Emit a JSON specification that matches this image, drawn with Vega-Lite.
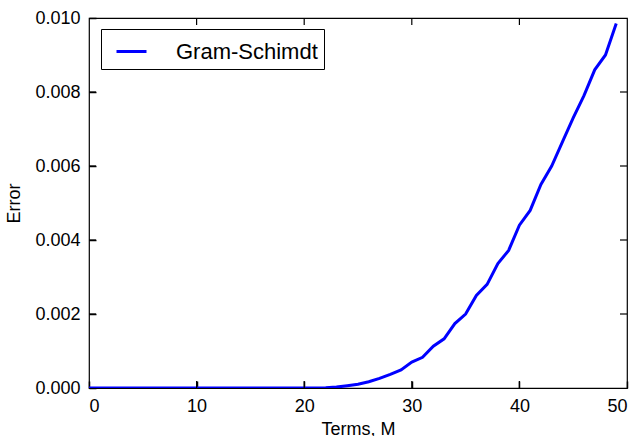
{
  "$schema": "https://vega.github.io/schema/vega-lite/v6.json",
  "autosize": "none",
  "width": 538,
  "height": 370,
  "padding": {"left": 89, "top": 18, "right": 12, "bottom": 48},
  "background": "white",
  "config": {
    "font": "Liberation Sans",
    "view": {"stroke": "black", "strokeWidth": 1.2, "fill": null},
    "axis": {
      "grid": false,
      "domain": false,
      "zindex": 1,
      "labelFont": "Liberation Sans",
      "labelFontSize": 18,
      "labelColor": "black",
      "titleFont": "Liberation Sans",
      "titleFontSize": 18,
      "titleFontWeight": "normal",
      "titleColor": "black"
    }
  },
  "datasets": {
    "xticks": [{"M": 10}, {"M": 20}, {"M": 30}, {"M": 40}],
    "yticks": [{"err": 0.002}, {"err": 0.004}, {"err": 0.006}, {"err": 0.008}]
  },
  "data": {
    "values": [
      {"M": 0, "err": 0, "series": "Gram-Schimdt"},
      {"M": 1, "err": 0, "series": "Gram-Schimdt"},
      {"M": 2, "err": 0, "series": "Gram-Schimdt"},
      {"M": 3, "err": 0, "series": "Gram-Schimdt"},
      {"M": 4, "err": 0, "series": "Gram-Schimdt"},
      {"M": 5, "err": 0, "series": "Gram-Schimdt"},
      {"M": 6, "err": 0, "series": "Gram-Schimdt"},
      {"M": 7, "err": 0, "series": "Gram-Schimdt"},
      {"M": 8, "err": 0, "series": "Gram-Schimdt"},
      {"M": 9, "err": 0, "series": "Gram-Schimdt"},
      {"M": 10, "err": 0, "series": "Gram-Schimdt"},
      {"M": 11, "err": 0, "series": "Gram-Schimdt"},
      {"M": 12, "err": 0, "series": "Gram-Schimdt"},
      {"M": 13, "err": 0, "series": "Gram-Schimdt"},
      {"M": 14, "err": 0, "series": "Gram-Schimdt"},
      {"M": 15, "err": 0, "series": "Gram-Schimdt"},
      {"M": 16, "err": 0, "series": "Gram-Schimdt"},
      {"M": 17, "err": 0, "series": "Gram-Schimdt"},
      {"M": 18, "err": 0, "series": "Gram-Schimdt"},
      {"M": 19, "err": 0, "series": "Gram-Schimdt"},
      {"M": 20, "err": 0.000001, "series": "Gram-Schimdt"},
      {"M": 21, "err": 0.000003, "series": "Gram-Schimdt"},
      {"M": 22, "err": 0.00001, "series": "Gram-Schimdt"},
      {"M": 23, "err": 0.000025, "series": "Gram-Schimdt"},
      {"M": 24, "err": 0.00006, "series": "Gram-Schimdt"},
      {"M": 25, "err": 0.0001, "series": "Gram-Schimdt"},
      {"M": 26, "err": 0.00017, "series": "Gram-Schimdt"},
      {"M": 27, "err": 0.00026, "series": "Gram-Schimdt"},
      {"M": 28, "err": 0.00037, "series": "Gram-Schimdt"},
      {"M": 29, "err": 0.00049, "series": "Gram-Schimdt"},
      {"M": 30, "err": 0.0007, "series": "Gram-Schimdt"},
      {"M": 31, "err": 0.00083, "series": "Gram-Schimdt"},
      {"M": 32, "err": 0.00113, "series": "Gram-Schimdt"},
      {"M": 33, "err": 0.00133, "series": "Gram-Schimdt"},
      {"M": 34, "err": 0.00174, "series": "Gram-Schimdt"},
      {"M": 35, "err": 0.002, "series": "Gram-Schimdt"},
      {"M": 36, "err": 0.0025, "series": "Gram-Schimdt"},
      {"M": 37, "err": 0.0028, "series": "Gram-Schimdt"},
      {"M": 38, "err": 0.00336, "series": "Gram-Schimdt"},
      {"M": 39, "err": 0.00372, "series": "Gram-Schimdt"},
      {"M": 40, "err": 0.0044, "series": "Gram-Schimdt"},
      {"M": 41, "err": 0.0048, "series": "Gram-Schimdt"},
      {"M": 42, "err": 0.0055, "series": "Gram-Schimdt"},
      {"M": 43, "err": 0.006, "series": "Gram-Schimdt"},
      {"M": 44, "err": 0.00665, "series": "Gram-Schimdt"},
      {"M": 45, "err": 0.0073, "series": "Gram-Schimdt"},
      {"M": 46, "err": 0.0079, "series": "Gram-Schimdt"},
      {"M": 47, "err": 0.0086, "series": "Gram-Schimdt"},
      {"M": 48, "err": 0.009, "series": "Gram-Schimdt"},
      {"M": 49, "err": 0.00985, "series": "Gram-Schimdt"}
    ]
  },
  "layer": [
    {
      "mark": {"type": "line", "strokeWidth": 3, "clip": true},
      "encoding": {
        "x": {
          "field": "M", "type": "quantitative",
          "scale": {"domain": [0, 50], "nice": false},
          "axis": {"orient": "bottom", "values": [0, 10, 20, 30, 40, 50], "title": "Terms, M", "ticks": true, "tickSize": 7, "tickColor": "#000000", "tickWidth": 1.5, "offset": -7, "labelPadding": 9, "titlePadding": 5}
        },
        "y": {
          "field": "err", "type": "quantitative",
          "scale": {"domain": [0, 0.01], "nice": false},
          "axis": {"orient": "left", "values": [0, 0.002, 0.004, 0.006, 0.008, 0.01], "format": ".3f", "title": "Error", "ticks": true, "tickSize": 7, "tickColor": "#000000", "tickWidth": 1.5, "offset": -7, "labelPadding": 9, "titlePadding": 11}
        },
        "color": {
          "field": "series", "type": "nominal",
          "scale": {"domain": ["Gram-Schimdt"], "range": ["#0000ff"]},
          "legend": {
            "title": null,
            "orient": "none",
            "legendX": 12,
            "legendY": 11,
            "strokeColor": "black",
            "fillColor": "white",
            "padding": 6,
            "symbolType": "stroke",
            "symbolSize": 900,
            "symbolStrokeWidth": 3,
            "symbolOffset": 8,
            "labelOffset": 28,
            "labelFont": "Liberation Sans",
            "labelFontSize": 22,
            "labelColor": "black"
          }
        }
      }
    },
    {
      "data": {"name": "xticks"},
      "mark": {"type": "rule", "color": "black", "strokeWidth": 1.2},
      "encoding": {
        "x": {"field": "M", "type": "quantitative", "title": "Terms, M"},
        "y": {"datum": 0},
        "y2": {"datum": 0.00019}
      }
    },
    {
      "data": {"name": "xticks"},
      "mark": {"type": "rule", "color": "black", "strokeWidth": 1.2},
      "encoding": {
        "x": {"field": "M", "type": "quantitative", "title": "Terms, M"},
        "y": {"datum": 0.01},
        "y2": {"datum": 0.00981}
      }
    },
    {
      "data": {"name": "yticks"},
      "mark": {"type": "rule", "color": "black", "strokeWidth": 1.2},
      "encoding": {
        "y": {"field": "err", "type": "quantitative", "title": "Error"},
        "x": {"datum": 0},
        "x2": {"datum": 0.65}
      }
    },
    {
      "data": {"name": "yticks"},
      "mark": {"type": "rule", "color": "black", "strokeWidth": 1.2},
      "encoding": {
        "y": {"field": "err", "type": "quantitative", "title": "Error"},
        "x": {"datum": 50},
        "x2": {"datum": 49.35}
      }
    }
  ]
}
